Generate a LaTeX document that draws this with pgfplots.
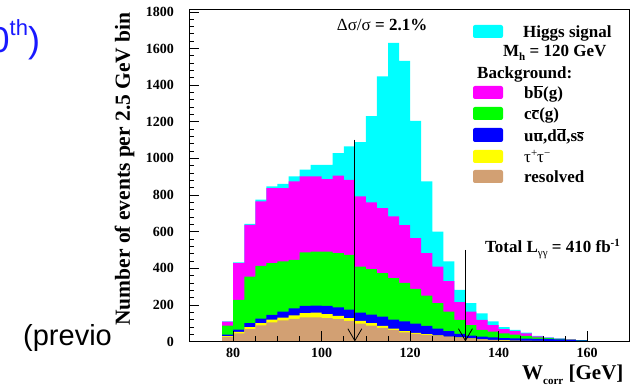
\documentclass[border=0pt]{standalone}
\usepackage{fontspec}
\setmainfont{Liberation Serif}
\newfontfamily\arialf{Liberation Sans}
\usepackage{pgfplots}
\usepackage{pgfplotstable}
\pgfplotsset{compat=1.18}
\usetikzlibrary{arrows.meta}
\definecolor{hcyan}{RGB}{0,255,255}
\definecolor{hmag}{RGB}{255,0,255}
\definecolor{hgreen}{RGB}{0,255,0}
\definecolor{hblue}{RGB}{0,0,255}
\definecolor{hyellow}{RGB}{255,255,0}
\definecolor{hbrown}{RGB}{210,160,115}
\definecolor{slideblue}{RGB}{25,25,255}
% cumulative stacked tops per 2.5 GeV bin (left edge)
\pgfplotstableread{
x     res tau uds cc  bb  tot
77.5  25  29  38  86  108 110
80    45  52  65  227 428 432
82.5  68  78  100 354 637 642
85    88  100 125 413 765 775
87.5  105 120 145 428 838 847
90    115 130 163 437 838 860
92.5  124 143 181 446 874 901
95    132 155 194 486 901 938
97.5  132 157 196 491 901 965
100   128 150 194 491 887 965
102.5 122 140 186 482 905 1029
105   112 128 174 473 883 1066
107.5 98  112 158 409 792 1088
110   87  100 147 395 759 1230
112.5 74  85  136 373 728 1448
115   62  70  120 346 683 1631
117.5 50  56  110 320 635 1532
120   42  47  98  287 564 1205
122.5 36  40  85  250 482 874
125   30  33  70  209 409 600
127.5 25  27  56  163 330 437
130   20  22  42  118 215 282
132.5 15  17  32  90  163 209
135   11  12  26  63  118 154
137.5 8   9   22  54  90  110
140   6   7   19  45  67  78
142.5 4   5   17  38  56  63
145   3   4   15  30  44  48
147.5 2   3   14  22  28  30
150   2   2   14  18  21  23
152.5 1   1   12  14  16  17
155   1   1   9   10  11  12
157.5 0   0   6   7   7   8
160   0   0   0   0   0   0
}\hist
\begin{document}
\begin{tikzpicture}[x=1pt,y=1pt]
\useasboundingbox (0,0) rectangle (630,387);
% slide fragments behind the chart
\node[anchor=base west, inner sep=0, text=slideblue, font=\arialf\fontsize{36}{36}\selectfont] at (-10.5,334) {0\raisebox{17pt}{\fontsize{22}{22}\selectfont th})};
\node[anchor=base west, inner sep=0, font=\arialf\fontsize{29}{29}\selectfont] at (23,41) {(previous};
\fill[white] (111,0) rectangle (631,388);
\begin{axis}[
  at={(189pt,45.5pt)}, anchor=south west,
  scale only axis, width=440.5pt, height=331.5pt,
  xmin=70, xmax=169.6, ymin=0, ymax=1810,
  axis on top,
  xtick={80,100,...,160}, ytick={0,200,...,1800},
  minor x tick num=3, minor y tick num=4,
  tick align=inside, xtick pos=left, ytick pos=left,
  major tick length=10pt, minor tick length=5pt,
  tick style={black, line width=0.6pt},
  axis line style={line width=1pt},
  ticklabel style={font=\bfseries\fontsize{14}{14}\selectfont},
  /pgf/number format/assume math mode=true,
  /pgf/number format/1000 sep={},
  yticklabel style={inner sep=0pt, anchor=east, xshift=-15pt},
  xticklabel style={inner sep=0pt, anchor=north, yshift=-6pt},
]
\addplot[const plot mark left, fill=hcyan, draw=none] table[x=x, y=tot] {\hist} \closedcycle;
\addplot[const plot mark left, fill=hmag, draw=none] table[x=x, y=bb] {\hist} \closedcycle;
\addplot[const plot mark left, fill=hgreen, draw=none] table[x=x, y=cc] {\hist} \closedcycle;
\addplot[const plot mark left, fill=hblue, draw=none] table[x=x, y=uds] {\hist} \closedcycle;
\addplot[const plot mark left, fill=hyellow, draw=none] table[x=x, y=tau] {\hist} \closedcycle;
\addplot[const plot mark left, fill=hbrown, draw=none] table[x=x, y=res] {\hist} \closedcycle;
\draw[line width=0.8pt, -{Straight Barb[length=12pt,width=14pt,line width=0.8pt]}] (axis cs:107.5,1102) -- (axis cs:107.5,0);
\draw[line width=0.8pt, -{Straight Barb[length=12pt,width=14pt,line width=0.8pt]}] (axis cs:132.5,500) -- (axis cs:132.5,0);
\end{axis}
% annotations
\node[anchor=base west, inner sep=0, font=\bfseries\fontsize{17}{17}\selectfont] at (336.7,356.5) {{\mdseries Δσ/σ} = 2.1\%};
\node[anchor=base west, inner sep=0, font=\bfseries\fontsize{17}{17}\selectfont] at (485,134.3) {Total L\raisebox{-4pt}{\mdseries\fontsize{11}{11}\selectfont γγ} = 410 fb\raisebox{6pt}{\fontsize{11}{11}\selectfont -1}};
% legend
\begin{scope}[rounded corners=2pt]
\fill[hcyan]   (473,349) rectangle (503,362);
\fill[hmag]    (473,288) rectangle (503,301);
\fill[hgreen]  (473,267) rectangle (503,280);
\fill[hblue]   (473,245) rectangle (503,259);
\fill[hyellow] (473,224) rectangle (503,237);
\fill[hbrown]  (473,204) rectangle (503,217);
\end{scope}
\begin{scope}[every node/.style={anchor=base west, inner sep=0, font=\bfseries\fontsize{17}{17}\selectfont}]
\node at (523,349) {Higgs signal};
\node at (503,330.3) {M\raisebox{-4pt}{\fontsize{11}{11}\selectfont h} = 120 GeV};
\node at (477,308.7) {Background:};
\node at (524,288) {b$\overline{\mbox{b}}$(g)};
\node at (524,267) {c$\overline{\mbox{c}}$(g)};
\node at (524,245) {u$\overline{\mbox{u}}$,d$\overline{\mbox{d}}$,s$\overline{\mbox{s}}$};
\node at (524,224) {\mdseries τ\raisebox{6pt}{\fontsize{11}{11}\selectfont +}τ\raisebox{6pt}{\fontsize{11}{11}\selectfont −}};
\node at (524,204) {resolved};
\end{scope}
% axis titles
\node[rotate=90, inner sep=0, font=\bfseries\fontsize{21.5}{21.5}\selectfont] at (124.5,218) {Number of events per 2.5 GeV bin};
\node[anchor=base west, inner sep=0, font=\bfseries\fontsize{21}{21}\selectfont] at (522,7) {W\raisebox{-5pt}{\fontsize{11}{11}\selectfont corr} [GeV]};
\end{tikzpicture}
\end{document}
